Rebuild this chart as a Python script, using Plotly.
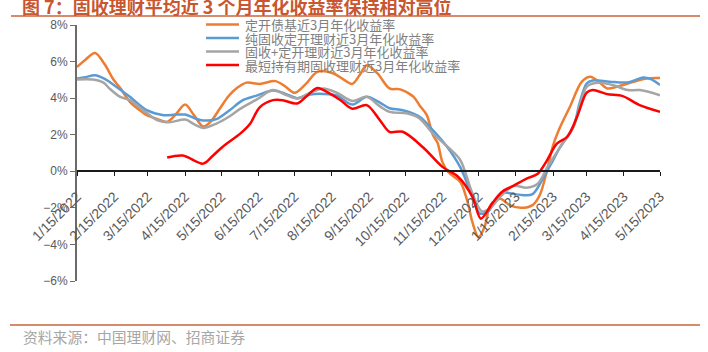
import plotly.graph_objects as go

# ---------------- data (values in %) ----------------
series_names = [
    "定开债基近3月年化收益率",
    "纯固收定开理财近3月年化收益率",
    "固收+定开理财近3月年化收益率",
    "最短持有期固收理财近3月年化收益率",
]
series_colors = ["#ED7D31", "#5B9BD5", "#A5A5A5", "#FF0000"]

orange_dates = ["2022-01-15", "2022-01-22", "2022-01-30", "2022-02-07", "2022-02-14", "2022-02-20",
                "2022-02-28", "2022-03-08", "2022-03-14", "2022-03-23", "2022-03-31", "2022-04-07",
                "2022-04-15", "2022-04-22", "2022-04-30", "2022-05-06", "2022-05-14", "2022-05-21",
                "2022-05-28", "2022-06-05", "2022-06-16", "2022-06-29", "2022-07-07", "2022-07-15",
                "2022-07-24", "2022-08-03", "2022-08-16", "2022-08-24", "2022-09-01", "2022-09-07",
                "2022-09-13", "2022-09-22", "2022-10-02", "2022-10-11", "2022-10-22", "2022-10-27",
                "2022-11-02", "2022-11-07", "2022-11-11", "2022-11-15", "2022-11-20", "2022-11-30",
                "2022-12-06", "2022-12-10", "2022-12-15", "2022-12-20", "2022-12-25", "2023-01-02",
                "2023-01-10", "2023-01-19", "2023-01-29", "2023-02-04", "2023-02-10", "2023-02-15",
                "2023-02-21", "2023-03-01", "2023-03-11", "2023-03-18", "2023-03-25", "2023-04-01",
                "2023-04-09", "2023-04-23", "2023-05-04", "2023-05-15"]
orange_vals = [5.70, 6.10, 6.47, 5.85, 5.05, 4.55,
               3.80, 3.35, 3.07, 2.85, 2.70, 3.10,
               3.65, 3.10, 2.45, 2.70, 3.45, 4.10,
               4.55, 4.85, 4.78, 4.93, 4.65, 4.29,
               4.75, 5.44, 5.36, 5.05, 4.78, 5.25,
               5.80, 5.35, 4.53, 4.48, 4.07, 3.60,
               3.07, 2.00, 1.55, 0.50, -0.05, -0.60,
               -1.70, -2.80, -3.60, -3.05, -1.85, -1.50,
               -1.85, -2.00, -1.85, -1.30, 0.05, 1.40,
               2.43, 3.52, 4.90, 5.17, 4.90, 4.53,
               4.62, 4.90, 5.08, 5.10]

blue_dates = ["2022-01-15", "2022-01-22", "2022-01-30", "2022-02-07", "2022-02-14", "2022-02-28",
              "2022-03-14", "2022-03-28", "2022-04-07", "2022-04-15", "2022-04-23", "2022-04-30",
              "2022-05-11", "2022-05-22", "2022-06-02", "2022-06-14", "2022-06-27", "2022-07-07",
              "2022-07-17", "2022-07-28", "2022-08-08", "2022-08-19", "2022-09-01", "2022-09-13",
              "2022-09-24", "2022-10-02", "2022-10-13", "2022-10-27", "2022-11-07", "2022-11-19",
              "2022-11-30", "2022-12-10", "2022-12-16", "2022-12-23", "2022-12-30", "2023-01-04",
              "2023-01-10", "2023-01-20", "2023-01-29", "2023-02-07", "2023-02-15", "2023-02-21",
              "2023-03-04", "2023-03-09", "2023-03-15", "2023-03-20", "2023-04-03", "2023-04-18",
              "2023-05-01", "2023-05-07", "2023-05-15"]
blue_vals = [5.08, 5.15, 5.25, 5.05, 4.75, 4.07,
             3.34, 3.07, 3.10, 3.10, 2.90, 2.78,
             2.85, 3.34, 3.89, 4.15, 4.42, 4.25,
             4.00, 4.20, 4.23, 4.15, 3.65, 4.07,
             3.75, 3.45, 3.34, 2.98, 2.25, 1.33,
             0.20, -1.40, -2.30, -2.20, -1.45, -1.15,
             -1.20, -1.30, -1.25, -0.35, 0.60, 1.33,
             2.43, 3.70, 4.80, 4.97, 4.90, 4.86,
             5.13, 5.05, 4.72]

gray_dates = ["2022-01-15", "2022-01-28", "2022-02-06", "2022-02-11", "2022-02-20", "2022-02-28",
              "2022-03-11", "2022-03-23", "2022-04-02", "2022-04-15", "2022-04-23", "2022-04-30",
              "2022-05-11", "2022-05-22", "2022-05-31", "2022-06-14", "2022-06-27", "2022-07-07",
              "2022-07-17", "2022-07-28", "2022-08-08", "2022-08-19", "2022-09-01", "2022-09-13",
              "2022-09-24", "2022-10-02", "2022-10-17", "2022-10-27", "2022-11-07", "2022-11-21",
              "2022-11-30", "2022-12-10", "2022-12-18", "2022-12-25", "2023-01-02", "2023-01-13",
              "2023-01-24", "2023-02-02", "2023-02-11", "2023-02-21", "2023-03-04", "2023-03-15",
              "2023-03-24", "2023-04-06", "2023-04-18", "2023-04-28", "2023-05-15"]
gray_vals = [5.02, 5.02, 4.85, 4.53, 4.07, 3.89,
             3.34, 2.79, 2.68, 2.83, 2.55, 2.37,
             2.61, 3.01, 3.43, 3.95, 4.44, 4.20,
             3.98, 4.30, 4.53, 4.30, 3.85, 4.07,
             3.55, 3.25, 3.16, 2.89, 2.07, 1.24,
             0.60, -1.22, -2.20, -2.00, -1.40, -0.80,
             -0.90, -0.70, 0.30, 1.33, 2.43, 4.62,
             4.84, 4.71, 4.44, 4.44, 4.16]

red_dates = ["2022-03-31", "2022-04-13", "2022-04-30", "2022-05-08", "2022-05-16", "2022-05-31",
             "2022-06-08", "2022-06-16", "2022-06-27", "2022-07-05", "2022-07-17", "2022-07-25",
             "2022-08-03", "2022-08-13", "2022-08-22", "2022-09-01", "2022-09-13", "2022-09-24",
             "2022-10-02", "2022-10-13", "2022-10-30", "2022-11-15", "2022-11-28", "2022-12-10",
             "2022-12-17", "2022-12-27", "2023-01-04", "2023-01-13", "2023-01-24", "2023-02-02",
             "2023-02-10", "2023-02-18", "2023-02-27", "2023-03-07", "2023-03-15", "2023-03-20",
             "2023-04-01", "2023-04-14", "2023-04-28", "2023-05-15"]
red_vals = [0.75, 0.86, 0.42, 0.85, 1.33, 2.07,
            2.60, 3.50, 3.89, 3.89, 3.71, 4.10,
            4.56, 4.26, 3.90, 3.42, 3.62, 2.79,
            2.16, 2.16, 1.30, 0.24, -0.30, -1.40,
            -2.59, -1.70, -1.10, -0.80, -0.40, -0.15,
            0.60, 1.50, 1.90, 2.98, 4.30, 4.44,
            4.22, 4.11, 3.62, 3.25]

tick_dates = ["2022-01-15", "2022-02-15", "2022-03-15", "2022-04-15", "2022-05-15", "2022-06-15",
              "2022-07-15", "2022-08-15", "2022-09-15", "2022-10-15", "2022-11-15", "2022-12-15",
              "2023-01-15", "2023-02-15", "2023-03-15", "2023-04-15", "2023-05-15"]
tick_labels = ["1/15/2022", "2/15/2022", "3/15/2022", "4/15/2022", "5/15/2022", "6/15/2022",
               "7/15/2022", "8/15/2022", "9/15/2022", "10/15/2022", "11/15/2022", "12/15/2022",
               "1/15/2023", "2/15/2023", "3/15/2023", "4/15/2023", "5/15/2023"]

y_min, y_max = -6, 8

title_text = "图 7：固收理财平均近 3 个月年化收益率保持相对高位"
source_text = "资料来源：中国理财网、招商证券"

# ---------------- figure ----------------
W, H = 708, 352
L, R, T, B = 77, 48, 25, 71
PW, PH = W - L - R, H - T - B


def px(xp):
    return (xp - L) / PW


def py(yp):
    return (H - B - yp) / PH


fig = go.Figure()
all_x = [orange_dates, blue_dates, gray_dates, red_dates]
all_y = [orange_vals, blue_vals, gray_vals, red_vals]
for name, color, xs, ys in zip(series_names, series_colors, all_x, all_y):
    fig.add_trace(go.Scatter(
        x=xs, y=ys, name=name, mode="lines",
        line=dict(color=color, width=2.5, shape="spline", smoothing=0.9),
        showlegend=False, hoverinfo="skip",
    ))

shapes = []
annotations = []

# manual legend (compact spacing like the original)
leg_rows = [24.5, 38, 51.5, 65]
for name, color, yr in zip(series_names, series_colors, leg_rows):
    shapes.append(dict(type="line", xref="paper", yref="paper",
                       x0=px(206), x1=px(239), y0=py(yr), y1=py(yr),
                       line=dict(color=color, width=2.5)))
    annotations.append(dict(xref="paper", yref="paper", x=px(243), y=py(yr),
                            xanchor="left", yanchor="middle", showarrow=False,
                            text=name,
                            font=dict(family="Noto Sans CJK SC", size=13, color="#7F7F7F")))

# title + rule
annotations.append(dict(xref="paper", yref="paper", x=px(20), y=py(6),
                        xanchor="left", yanchor="middle", showarrow=False,
                        text="<b>" + title_text + "</b>",
                        font=dict(family="Noto Sans CJK SC", size=18, color="#C8562E")))
shapes.append(dict(type="line", xref="paper", yref="paper",
                   x0=px(11), x1=px(700), y0=py(16), y1=py(16),
                   line=dict(color="#C8643C", width=1.5)))

# footer + rule
shapes.append(dict(type="line", xref="paper", yref="paper",
                   x0=px(10), x1=px(700), y0=py(325), y1=py(325),
                   line=dict(color="#C8643C", width=1.5)))
annotations.append(dict(xref="paper", yref="paper", x=px(21), y=py(336.5),
                        xanchor="left", yanchor="middle", showarrow=False,
                        text=source_text,
                        font=dict(family="Noto Sans CJK SC", size=14.8, color="#A6A6A6")))

zero_pos = (0 - y_min) / (y_max - y_min)

fig.update_layout(
    width=W, height=H,
    margin=dict(l=L, r=R, t=T, b=B, pad=0),
    paper_bgcolor="white", plot_bgcolor="white",
    showlegend=False,
    shapes=shapes,
    annotations=annotations,
    xaxis=dict(
        type="date",
        range=[tick_dates[0], tick_dates[-1]],
        tickmode="array", tickvals=tick_dates, ticktext=tick_labels,
        tickangle=-45,
        anchor="free", position=zero_pos,
        showline=True, linecolor="#1a1a1a", linewidth=1.5,
        ticks="outside", ticklen=4, tickwidth=1.2, tickcolor="#1a1a1a",
        ticklabelstandoff=7,
        showgrid=False, zeroline=False,
        tickfont=dict(family="Liberation Sans, Arial", size=14, color="#595959"),
    ),
    yaxis=dict(
        range=[y_min, y_max], dtick=2, tick0=0,
        ticksuffix="%",
        showline=True, linecolor="#6b6b6b", linewidth=2,
        ticks="outside", ticklen=5, tickwidth=1.2, tickcolor="#6b6b6b",
        showgrid=False, zeroline=False,
        tickfont=dict(family="Liberation Sans, Arial", size=12, color="#595959"),
    ),
)

fig.write_html("out.html")
